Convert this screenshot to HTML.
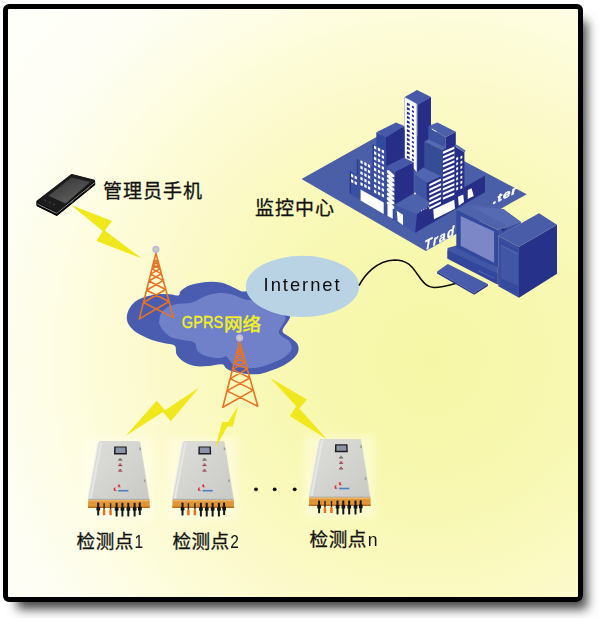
<!DOCTYPE html>
<html><head><meta charset="utf-8"><title>GPRS monitoring network</title>
<style>
html,body{margin:0;padding:0;background:#fff;}
body{width:600px;height:618px;position:relative;overflow:hidden;font-family:"Liberation Sans",sans-serif;}
#frame{position:absolute;left:3px;top:4px;width:580px;height:597.5px;box-sizing:border-box;border:5px solid #000;border-radius:6px;
background:radial-gradient(circle at 422px 351px,rgb(246,247,166) 0px,rgb(247,248,172) 80px,rgb(248,248,179) 150px,rgb(250,249,191) 220px,rgb(252,250,205) 280px,rgb(253,252,218) 340px,rgb(254,253,229) 380px,rgb(254,254,245) 450px,rgb(255,255,250) 540px);box-shadow:9px 12px 11px -5px rgba(0,0,0,.74);}
svg text{font-family:"Liberation Sans",sans-serif;}
svg text.cjk{font-family:"Liberation Sans","Noto Sans CJK SC",sans-serif;}
</style></head><body>
<div id="frame"></div>
<svg width="600" height="618" viewBox="0 0 600 618" style="position:absolute;left:0;top:0">
<!-- defs -->
<defs>
<filter id="soft" x="-10%" y="-10%" width="120%" height="120%"><feGaussianBlur stdDeviation="0.6"/></filter>
<filter id="halo" x="-20%" y="-20%" width="140%" height="140%"><feGaussianBlur stdDeviation="3"/></filter>
<linearGradient id="phTop" x1="0" y1="0" x2="1" y2="1"><stop offset="0" stop-color="#2a2a2a"/><stop offset="1" stop-color="#111"/></linearGradient>
<linearGradient id="phScr" x1="0" y1="0" x2="0.6" y2="1"><stop offset="0" stop-color="#333"/><stop offset="1" stop-color="#5e5e5c"/></linearGradient>
<linearGradient id="boxFace" x1="0" y1="0" x2="1" y2="1"><stop offset="0" stop-color="#dededa"/><stop offset="1" stop-color="#c9c9c5"/></linearGradient>
</defs>
<!-- boxes -->
<rect x="83.5" y="438.0" width="70" height="82" fill="#fffff4" opacity="0.4" filter="url(#halo)"/><g transform="translate(0.0 0.0)" filter="url(#soft)"><polygon points="99.9,441.4 97.4,442.6 87.4,499.3 88.7,499.3" fill="#ecece8" /><polygon points="99.7,441.6 139.7,441.6 149.2,499.6 88.7,499.6" fill="url(#boxFace)" stroke="#d4d4d0" stroke-width="0.8" stroke-linejoin="round"/><polygon points="100.2,442.2 102.4,442.2 91.8,498.4 89.4,498.4" fill="#e6e6e2" /><path d="M88.6 499.4 L149.2 499.4" stroke="#a9a9a2" stroke-width="1"/><polygon points="88.2,499.9 149.6,499.9 149.8,508.0 88.0,508.0" fill="#e09636" /><polygon points="88.2,499.9 149.6,499.9 149.6,501.2 88.2,501.2" fill="#efb562" /><polygon points="88.0,506.6 149.8,506.6 149.8,508.1 88.0,508.1" fill="#b9701f" /><polygon points="114.2,446.4 126.6,446.4 126.9,454.4 114.0,454.4" fill="#1c1c20" /><polygon points="115.6,447.6 125.3,447.6 125.5,453.0 115.5,453.0" fill="#8a94a4" /><rect x="118.2" y="459.4" width="4.0" height="1.3" fill="#8a5050"/><rect x="119.3" y="458.0" width="1.8" height="1.5" fill="#6a8a6a"/><rect x="118.2" y="464.8" width="4.0" height="1.3" fill="#8a5050"/><rect x="119.3" y="463.4" width="1.8" height="1.5" fill="#b05050"/><rect x="118.2" y="470.4" width="4.0" height="1.3" fill="#8a5050"/><rect x="119.3" y="469.0" width="1.8" height="1.5" fill="#b05050"/><path d="M113.5,488.5 l2,-1.6 l-0.4,2.6 l2,1 l-3,0.6z M117.6,485.2 l2,-1.2 l0.2,2.4 l1.6,0.6 l-2.6,0.6z" fill="#d83030"/><rect x="118.2" y="489.9" width="10.2" height="1.6" fill="#4a80c8"/><rect x="139.4" y="447.5" width="1.5" height="2.6" fill="#9a9a96"/><rect x="143.9" y="479.5" width="1.5" height="2.6" fill="#9a9a96"/><rect x="97.2" y="502.6" width="2.0" height="12.8" rx="0.6" fill="#151515"/><rect x="96.4" y="507.0" width="3.7" height="3.6" rx="0.5" fill="#151515"/><rect x="103.4" y="503.2" width="1.4" height="6.4" fill="#2a2018"/><rect x="102.8" y="509.4" width="2.5" height="5.8" rx="0.5" fill="#e8701c"/><rect x="109.9" y="503.2" width="1.4" height="6.4" fill="#2a2018"/><rect x="109.3" y="509.4" width="2.5" height="5.8" rx="0.5" fill="#e8701c"/><rect x="115.6" y="502.8" width="2.0" height="13.8" rx="0.6" fill="#151515"/><rect x="114.8" y="507.2" width="3.7" height="3.6" rx="0.5" fill="#151515"/><rect x="121.4" y="502.8" width="2.0" height="13.8" rx="0.6" fill="#151515"/><rect x="120.6" y="507.2" width="3.7" height="3.6" rx="0.5" fill="#151515"/><rect x="127.3" y="502.8" width="2.0" height="13.8" rx="0.6" fill="#151515"/><rect x="126.5" y="507.2" width="3.7" height="3.6" rx="0.5" fill="#151515"/><rect x="133.6" y="502.8" width="2.0" height="13.8" rx="0.6" fill="#151515"/><rect x="132.8" y="507.2" width="3.7" height="3.6" rx="0.5" fill="#151515"/><rect x="138.8" y="502.4" width="2.0" height="12.6" rx="0.6" fill="#151515"/><rect x="138.0" y="506.8" width="3.7" height="3.6" rx="0.5" fill="#151515"/></g><rect x="167.8" y="438.0" width="70" height="82" fill="#fffff4" opacity="0.4" filter="url(#halo)"/><g transform="translate(84.3 0.0)" filter="url(#soft)"><polygon points="99.9,441.4 97.4,442.6 87.4,499.3 88.7,499.3" fill="#ecece8" /><polygon points="99.7,441.6 139.7,441.6 149.2,499.6 88.7,499.6" fill="url(#boxFace)" stroke="#d4d4d0" stroke-width="0.8" stroke-linejoin="round"/><polygon points="100.2,442.2 102.4,442.2 91.8,498.4 89.4,498.4" fill="#e6e6e2" /><path d="M88.6 499.4 L149.2 499.4" stroke="#a9a9a2" stroke-width="1"/><polygon points="88.2,499.9 149.6,499.9 149.8,508.0 88.0,508.0" fill="#e09636" /><polygon points="88.2,499.9 149.6,499.9 149.6,501.2 88.2,501.2" fill="#efb562" /><polygon points="88.0,506.6 149.8,506.6 149.8,508.1 88.0,508.1" fill="#b9701f" /><polygon points="114.2,446.4 126.6,446.4 126.9,454.4 114.0,454.4" fill="#1c1c20" /><polygon points="115.6,447.6 125.3,447.6 125.5,453.0 115.5,453.0" fill="#8a94a4" /><rect x="118.2" y="459.4" width="4.0" height="1.3" fill="#8a5050"/><rect x="119.3" y="458.0" width="1.8" height="1.5" fill="#6a8a6a"/><rect x="118.2" y="464.8" width="4.0" height="1.3" fill="#8a5050"/><rect x="119.3" y="463.4" width="1.8" height="1.5" fill="#b05050"/><rect x="118.2" y="470.4" width="4.0" height="1.3" fill="#8a5050"/><rect x="119.3" y="469.0" width="1.8" height="1.5" fill="#b05050"/><path d="M113.5,488.5 l2,-1.6 l-0.4,2.6 l2,1 l-3,0.6z M117.6,485.2 l2,-1.2 l0.2,2.4 l1.6,0.6 l-2.6,0.6z" fill="#d83030"/><rect x="118.2" y="489.9" width="10.2" height="1.6" fill="#4a80c8"/><rect x="139.4" y="447.5" width="1.5" height="2.6" fill="#9a9a96"/><rect x="143.9" y="479.5" width="1.5" height="2.6" fill="#9a9a96"/><rect x="97.2" y="502.6" width="2.0" height="12.8" rx="0.6" fill="#151515"/><rect x="96.4" y="507.0" width="3.7" height="3.6" rx="0.5" fill="#151515"/><rect x="103.4" y="503.2" width="1.4" height="6.4" fill="#2a2018"/><rect x="102.8" y="509.4" width="2.5" height="5.8" rx="0.5" fill="#e8701c"/><rect x="109.9" y="503.2" width="1.4" height="6.4" fill="#2a2018"/><rect x="109.3" y="509.4" width="2.5" height="5.8" rx="0.5" fill="#e8701c"/><rect x="115.6" y="502.8" width="2.0" height="13.8" rx="0.6" fill="#151515"/><rect x="114.8" y="507.2" width="3.7" height="3.6" rx="0.5" fill="#151515"/><rect x="121.4" y="502.8" width="2.0" height="13.8" rx="0.6" fill="#151515"/><rect x="120.6" y="507.2" width="3.7" height="3.6" rx="0.5" fill="#151515"/><rect x="127.3" y="502.8" width="2.0" height="13.8" rx="0.6" fill="#151515"/><rect x="126.5" y="507.2" width="3.7" height="3.6" rx="0.5" fill="#151515"/><rect x="133.6" y="502.8" width="2.0" height="13.8" rx="0.6" fill="#151515"/><rect x="132.8" y="507.2" width="3.7" height="3.6" rx="0.5" fill="#151515"/><rect x="138.8" y="502.4" width="2.0" height="12.6" rx="0.6" fill="#151515"/><rect x="138.0" y="506.8" width="3.7" height="3.6" rx="0.5" fill="#151515"/></g><rect x="304.4" y="435.8" width="70" height="82" fill="#fffff4" opacity="0.4" filter="url(#halo)"/><g transform="translate(220.9 -2.2)" filter="url(#soft)"><polygon points="99.9,441.4 97.4,442.6 87.4,499.3 88.7,499.3" fill="#ecece8" /><polygon points="99.7,441.6 139.7,441.6 149.2,499.6 88.7,499.6" fill="url(#boxFace)" stroke="#d4d4d0" stroke-width="0.8" stroke-linejoin="round"/><polygon points="100.2,442.2 102.4,442.2 91.8,498.4 89.4,498.4" fill="#e6e6e2" /><path d="M88.6 499.4 L149.2 499.4" stroke="#a9a9a2" stroke-width="1"/><polygon points="88.2,499.9 149.6,499.9 149.8,508.0 88.0,508.0" fill="#e09636" /><polygon points="88.2,499.9 149.6,499.9 149.6,501.2 88.2,501.2" fill="#efb562" /><polygon points="88.0,506.6 149.8,506.6 149.8,508.1 88.0,508.1" fill="#b9701f" /><polygon points="114.2,446.4 126.6,446.4 126.9,454.4 114.0,454.4" fill="#1c1c20" /><polygon points="115.6,447.6 125.3,447.6 125.5,453.0 115.5,453.0" fill="#8a94a4" /><rect x="118.2" y="459.4" width="4.0" height="1.3" fill="#8a5050"/><rect x="119.3" y="458.0" width="1.8" height="1.5" fill="#6a8a6a"/><rect x="118.2" y="464.8" width="4.0" height="1.3" fill="#8a5050"/><rect x="119.3" y="463.4" width="1.8" height="1.5" fill="#b05050"/><rect x="118.2" y="470.4" width="4.0" height="1.3" fill="#8a5050"/><rect x="119.3" y="469.0" width="1.8" height="1.5" fill="#b05050"/><path d="M113.5,488.5 l2,-1.6 l-0.4,2.6 l2,1 l-3,0.6z M117.6,485.2 l2,-1.2 l0.2,2.4 l1.6,0.6 l-2.6,0.6z" fill="#d83030"/><rect x="118.2" y="489.9" width="10.2" height="1.6" fill="#4a80c8"/><rect x="139.4" y="447.5" width="1.5" height="2.6" fill="#9a9a96"/><rect x="143.9" y="479.5" width="1.5" height="2.6" fill="#9a9a96"/><rect x="97.2" y="502.6" width="2.0" height="12.8" rx="0.6" fill="#151515"/><rect x="96.4" y="507.0" width="3.7" height="3.6" rx="0.5" fill="#151515"/><rect x="103.4" y="503.2" width="1.4" height="6.4" fill="#2a2018"/><rect x="102.8" y="509.4" width="2.5" height="5.8" rx="0.5" fill="#e8701c"/><rect x="109.9" y="503.2" width="1.4" height="6.4" fill="#2a2018"/><rect x="109.3" y="509.4" width="2.5" height="5.8" rx="0.5" fill="#e8701c"/><rect x="115.6" y="502.8" width="2.0" height="13.8" rx="0.6" fill="#151515"/><rect x="114.8" y="507.2" width="3.7" height="3.6" rx="0.5" fill="#151515"/><rect x="121.4" y="502.8" width="2.0" height="13.8" rx="0.6" fill="#151515"/><rect x="120.6" y="507.2" width="3.7" height="3.6" rx="0.5" fill="#151515"/><rect x="127.3" y="502.8" width="2.0" height="13.8" rx="0.6" fill="#151515"/><rect x="126.5" y="507.2" width="3.7" height="3.6" rx="0.5" fill="#151515"/><rect x="133.6" y="502.8" width="2.0" height="13.8" rx="0.6" fill="#151515"/><rect x="132.8" y="507.2" width="3.7" height="3.6" rx="0.5" fill="#151515"/><rect x="138.8" y="502.4" width="2.0" height="12.6" rx="0.6" fill="#151515"/><rect x="138.0" y="506.8" width="3.7" height="3.6" rx="0.5" fill="#151515"/></g>
<!-- bolts -->
<g filter="url(#soft)"><polygon points="71.0,205.0 112.0,221.0 104.8,230.6 142.0,258.6 96.5,241.0 102.6,231.0" fill="#f0e81a" /><polygon points="125.8,435.8 156.7,400.8 165.0,410.3 199.2,387.5 170.8,421.3 163.0,412.0" fill="#f0e81a" /><polygon points="238.5,405.5 228.0,421.9 222.2,421.9 215.2,448.0 227.5,426.5 232.7,426.5" fill="#f0e81a" /><polygon points="270.0,377.8 306.8,399.5 299.3,408.5 327.0,439.3 289.8,416.0 296.3,406.3" fill="#f0e81a" /></g>
<!-- cloud -->
<g filter="url(#soft)"><path d="M126.8 317.5C126.8 314.9 127.6 311.9 129.0 309.2C130.4 306.6 132.5 303.8 135.0 301.8C137.5 299.8 140.2 298.5 144.0 297.2C147.8 296.0 153.2 294.8 157.5 294.2C161.8 293.8 166.0 294.0 169.5 294.2C173.0 294.5 176.7 296.0 178.5 295.5C180.3 295.0 179.0 292.8 180.5 291.3C182.0 289.8 184.6 287.6 187.5 286.2C190.4 284.9 194.2 284.0 198.0 283.2C201.8 282.5 206.2 281.9 210.0 281.8C213.8 281.6 217.2 281.9 220.5 282.5C223.8 283.1 226.8 284.4 229.5 285.5C232.2 286.6 234.8 288.2 237.0 289.2C239.2 290.2 240.5 291.2 243.0 291.5C245.5 291.8 247.2 289.9 252.0 291.0C256.8 292.1 266.0 295.2 272.0 298.0C278.0 300.8 285.0 305.0 288.0 308.0C291.0 311.0 289.9 313.9 290.0 316.0C290.1 318.1 289.8 318.0 288.5 320.5C287.2 323.0 282.4 328.3 282.5 331.0C282.6 333.7 286.8 334.7 289.2 336.8C291.7 338.8 295.6 341.1 297.1 343.5C298.6 345.9 299.0 348.8 298.2 351.4C297.5 354.0 295.2 356.8 292.6 359.2C290.0 361.7 286.1 364.1 282.5 366.0C278.9 367.9 275.0 369.2 271.2 370.5C267.5 371.8 264.1 373.3 260.0 373.9C255.9 374.5 251.0 374.3 246.5 373.9C242.0 373.5 236.4 372.5 233.0 371.6C229.6 370.7 228.1 369.5 226.2 368.2C224.4 367.0 224.8 364.6 221.8 364.2C218.8 363.8 212.8 365.7 208.2 366.0C203.8 366.3 198.9 366.8 194.8 366.0C190.6 365.2 186.5 363.4 183.5 361.5C180.5 359.6 178.1 357.2 176.8 354.8C175.4 352.2 176.4 348.2 175.4 346.5C174.4 344.8 173.0 344.9 171.0 344.3C169.0 343.7 167.0 343.8 163.5 343.0C160.0 342.2 154.5 341.0 150.0 339.2C145.5 337.5 140.0 334.9 136.5 332.5C133.0 330.1 130.6 327.5 129.0 325.0C127.4 322.5 126.8 320.1 126.8 317.5Z" fill="#4a5cb0"/><path d="M159.3 320.5C159.6 318.5 159.8 315.2 161.2 313.0C162.7 310.8 165.4 308.5 168.0 307.0C170.6 305.5 173.8 304.6 177.0 304.0C180.2 303.4 184.5 303.7 187.5 303.2C190.5 302.8 192.8 302.1 195.0 301.2C197.2 300.4 198.5 299.4 201.0 298.2C203.5 297.1 206.5 295.4 210.0 294.5C213.5 293.6 218.2 293.0 222.0 293.0C225.8 293.0 229.5 293.8 232.5 294.5C235.5 295.2 237.8 296.6 240.0 297.5C242.2 298.4 243.7 299.2 246.0 299.8C248.3 300.2 250.0 299.6 254.0 300.5C258.0 301.4 265.8 303.2 270.0 305.0C274.2 306.8 276.9 309.4 279.5 311.5C282.1 313.6 284.9 315.4 285.5 317.5C286.1 319.6 284.1 321.6 283.0 324.0C281.9 326.4 278.8 329.6 278.8 331.8C278.7 333.9 280.8 335.2 282.5 336.8C284.2 338.3 287.8 339.2 289.2 341.2C290.8 343.3 292.2 346.5 291.5 349.1C290.8 351.7 287.8 354.8 284.8 357.0C281.8 359.2 277.6 360.9 273.5 362.6C269.4 364.3 264.5 366.2 260.0 367.1C255.5 368.0 250.6 368.4 246.5 368.2C242.4 368.1 238.1 367.3 235.2 366.0C232.4 364.7 231.1 362.0 229.6 360.4C228.1 358.8 227.9 356.8 226.2 356.4C224.6 356.0 222.9 358.2 219.5 358.1C216.1 358.0 209.6 357.0 206.0 355.9C202.4 354.8 199.8 353.0 198.1 351.4C196.4 349.8 196.3 347.3 195.9 346.0C195.5 344.7 196.2 344.2 195.5 343.5C194.8 342.8 194.1 342.1 192.0 341.5C189.9 340.9 186.2 340.6 183.0 340.0C179.8 339.4 175.5 339.0 172.5 337.8C169.5 336.5 167.1 334.6 165.0 332.5C162.9 330.4 160.7 327.0 159.8 325.0C158.8 323.0 159.1 322.5 159.3 320.5Z" fill="#7080c9"/></g>
<!-- towers -->
<path d="M139.3 318.9L155.9 253.3L173.4 317.6M139.3 318.9L169.0 301.5M173.4 317.6L143.5 302.5M143.5 302.5L165.7 289.5M169.0 301.5L146.6 290.2M146.6 290.2L163.3 280.4M165.7 289.5L148.9 281.0M148.9 281.0L161.4 273.6M163.3 280.4L150.6 274.1M150.6 274.1L160.1 268.6M161.4 273.6L152.0 268.9M152.0 268.9L159.0 264.7M160.1 268.6L152.9 265.0M152.9 265.0L158.2 261.9M159.0 264.7L153.7 262.1M153.7 262.1L157.7 259.7M158.2 261.9L154.2 259.9" fill="none" stroke="#e87324" stroke-width="1.60" stroke-linejoin="round" stroke-linecap="round"/><circle cx="155.9" cy="249.3" r="3.6" fill="#bdb8dc"/><ellipse cx="155.9" cy="249.3" rx="2.0" ry="1.6" fill="#c9d2b4"/><path d="M222.8 407.3L239.6 341.8L257.8 406.2M222.8 407.3L253.2 390.1M257.8 406.2L227.0 390.9M227.0 390.9L249.8 378.0M253.2 390.1L230.2 378.6M230.2 378.6L247.3 369.0M249.8 378.0L232.5 369.4M232.5 369.4L245.4 362.2M247.3 369.0L234.3 362.5M234.3 362.5L243.9 357.1M245.4 362.2L235.6 357.3M235.6 357.3L242.8 353.3M243.9 357.1L236.6 353.5M236.6 353.5L242.0 350.4M242.8 353.3L237.4 350.5M237.4 350.5L241.4 348.2M242.0 350.4L237.9 348.4" fill="none" stroke="#e87324" stroke-width="1.60" stroke-linejoin="round" stroke-linecap="round"/><circle cx="239.6" cy="337.8" r="3.6" fill="#bdb8dc"/><ellipse cx="239.6" cy="337.8" rx="2.0" ry="1.6" fill="#c9d2b4"/>
<!-- ellipse -->
<ellipse cx="302.5" cy="286.4" rx="56.7" ry="30.6" fill="#bad3e4"/><text x="263.6" y="290.8" font-size="18.4" letter-spacing="1.95" fill="#0a0a0a" opacity="0.99">Internet</text>
<!-- cable -->
<path d="M359,285.6 C364,276 376,260.5 394.5,260 C410,260 414,270 418,275 C424,284 428,287.5 434,287.4 C442,287.5 450,285 457,283" fill="none" stroke="#0c0c0c" stroke-width="1.5"/>
<!-- city -->
<g filter="url(#soft)"><polygon points="301.5,178.9 397.0,125.5 526.7,194.2 425.8,251.0" fill="#4c5fa8" /><polygon points="417.4,104.2 431.0,97.0 431.0,168.0 417.4,174.0" fill="#262f88" /><polygon points="404.7,97.2 417.4,104.2 417.4,172.5 404.7,158.0" fill="#3a4ea4" /><polygon points="404.9,97.4 416.7,103.8 416.7,172.0 404.9,158.0" fill="#ffffff" /><polygon points="404.7,97.0 417.0,90.0 431.0,97.0 418.4,104.7" fill="#4759a8" /><path d="M406.9 102.6 l2.8 1.5 l0 2.2 l-1.3 -0.7 l-1.5 -0.2zM411.9 105.5 l2.0 1.1 l0 1.9 l-2.0 -1.1zM406.9 107.0 l2.8 1.5 l0 2.2 l-1.3 -0.7 l-1.5 -0.2zM411.9 109.9 l2.0 1.1 l0 1.9 l-2.0 -1.1zM406.9 111.4 l2.8 1.5 l0 2.2 l-1.3 -0.7 l-1.5 -0.2zM411.9 114.3 l2.0 1.1 l0 1.9 l-2.0 -1.1zM406.9 115.8 l2.8 1.5 l0 2.2 l-1.3 -0.7 l-1.5 -0.2zM411.9 118.7 l2.0 1.1 l0 1.9 l-2.0 -1.1zM406.9 120.2 l2.8 1.5 l0 2.2 l-1.3 -0.7 l-1.5 -0.2zM411.9 123.1 l2.0 1.1 l0 1.9 l-2.0 -1.1zM406.9 124.6 l2.8 1.5 l0 2.2 l-1.3 -0.7 l-1.5 -0.2zM411.9 127.5 l2.0 1.1 l0 1.9 l-2.0 -1.1zM406.9 129.0 l2.8 1.5 l0 2.2 l-1.3 -0.7 l-1.5 -0.2zM411.9 131.9 l2.0 1.1 l0 1.9 l-2.0 -1.1zM406.9 133.4 l2.8 1.5 l0 2.2 l-1.3 -0.7 l-1.5 -0.2zM411.9 136.3 l2.0 1.1 l0 1.9 l-2.0 -1.1zM406.9 137.8 l2.8 1.5 l0 2.2 l-1.3 -0.7 l-1.5 -0.2zM411.9 140.7 l2.0 1.1 l0 1.9 l-2.0 -1.1zM406.9 142.2 l2.8 1.5 l0 2.2 l-1.3 -0.7 l-1.5 -0.2zM411.9 145.1 l2.0 1.1 l0 1.9 l-2.0 -1.1zM406.9 146.6 l2.8 1.5 l0 2.2 l-1.3 -0.7 l-1.5 -0.2zM411.9 149.5 l2.0 1.1 l0 1.9 l-2.0 -1.1zM406.9 151.0 l2.8 1.5 l0 2.2 l-1.3 -0.7 l-1.5 -0.2zM411.9 153.9 l2.0 1.1 l0 1.9 l-2.0 -1.1zM406.9 155.4 l2.8 1.5 l0 2.2 l-1.3 -0.7 l-1.5 -0.2zM411.9 158.3 l2.0 1.1 l0 1.9 l-2.0 -1.1z" fill="#1f2a84"/><polygon points="386.0,137.3 404.3,126.0 404.3,160.0 386.0,168.0" fill="#262f88" /><polygon points="376.3,132.3 386.0,137.3 386.0,170.0 376.3,165.0" fill="#3149a0" /><polygon points="376.3,132.3 396.0,122.5 404.3,126.0 386.0,137.3" fill="#4759a8" /><polygon points="428.3,125.9 445.4,137.2 445.4,152.0 428.3,143.0" fill="#3d53a1" /><polygon points="445.4,137.2 455.8,131.8 455.8,149.0 445.4,152.0" fill="#262f88" /><polygon points="428.3,125.9 437.5,122.6 455.8,131.8 445.4,137.2" fill="#4b5fab" /><path d="M431.7,129.2 l5,2.5" stroke="#e8ecf8" stroke-width="0.9"/><polygon points="424.2,141.8 442.5,150.3 442.5,200.0 424.2,190.0" fill="#364d96" /><polygon points="424.2,141.8 428.3,139.2 445.0,147.2 442.5,150.3" fill="#566ab3" /><polygon points="442.5,150.3 454.8,145.6 454.8,204.0 442.5,210.0" fill="#262f88" /><polygon points="454.8,146.3 464.4,152.2 464.4,198.0 454.8,204.0" fill="#262f88" /><polygon points="454.6,145.4 456.2,144.6 465.6,150.4 464.4,152.4" fill="#566ab3" /><polygon points="414.7,174.2 426.8,182.8 426.8,206.0 414.7,196.0" fill="#3e55a2" /><polygon points="426.8,182.8 441.3,176.2 441.3,212.0 426.8,218.0" fill="#262f88" /><polygon points="414.7,174.2 423.0,167.5 441.3,176.2 426.8,182.8" fill="#5166b0" /><polygon points="349.7,170.5 356.8,174.2 356.8,158.8 372.6,166.8 372.6,144.0 386.3,151.2 386.3,166.3 395.0,171.7 395.0,221.0 349.5,193.6" fill="#3a50a1" /><path d="M350.3 171 v22.6 M357.4 159.4 v15.6 M373.2 144.6 v22" stroke="#2c3c94" stroke-width="1.2"/><polygon points="395.0,171.7 413.7,162.3 413.7,193.3 395.0,204.5" fill="#262f88" /><polygon points="386.3,166.3 403.7,157.7 413.7,162.3 395.0,171.7" fill="#4759a8" /><polygon points="395.0,205.0 417.0,214.0 417.0,234.0 395.0,221.0" fill="#3f55a4" /><polygon points="417.0,213.5 432.5,203.0 465.0,186.7 485.0,175.8 485.0,192.2 415.2,232.8" fill="#262f88" /><polygon points="395.0,205.0 415.0,193.3 431.7,203.3 417.0,214.0" fill="#4d62ad" /><circle cx="415" cy="193.5" r="0.9" fill="#fff"/><path d="M351.0 173.6 l2.3 1.15 l0 2.9 l-2.3 -1.15zM351.0 179.1 l2.3 1.15 l0 2.9 l-2.3 -1.15zM354.6 175.5 l2.3 1.15 l0 2.9 l-2.3 -1.15zM354.6 181.0 l2.3 1.15 l0 2.9 l-2.3 -1.15zM360.4 160.2 l2.3 1.15 l0 2.9 l-2.3 -1.15zM360.4 165.7 l2.3 1.15 l0 2.9 l-2.3 -1.15zM360.4 171.2 l2.3 1.15 l0 2.9 l-2.3 -1.15zM360.4 176.7 l2.3 1.15 l0 2.9 l-2.3 -1.15zM360.4 182.2 l2.3 1.15 l0 2.9 l-2.3 -1.15zM364.3 162.1 l2.3 1.15 l0 2.9 l-2.3 -1.15zM364.3 167.6 l2.3 1.15 l0 2.9 l-2.3 -1.15zM364.3 173.1 l2.3 1.15 l0 2.9 l-2.3 -1.15zM364.3 178.6 l2.3 1.15 l0 2.9 l-2.3 -1.15zM364.3 184.1 l2.3 1.15 l0 2.9 l-2.3 -1.15zM367.9 164.0 l2.3 1.15 l0 2.9 l-2.3 -1.15zM367.9 169.5 l2.3 1.15 l0 2.9 l-2.3 -1.15zM367.9 175.0 l2.3 1.15 l0 2.9 l-2.3 -1.15zM367.9 180.5 l2.3 1.15 l0 2.9 l-2.3 -1.15zM367.9 186.0 l2.3 1.15 l0 2.9 l-2.3 -1.15zM374.0 145.6 l2.3 1.15 l0 2.9 l-2.3 -1.15zM374.0 151.1 l2.3 1.15 l0 2.9 l-2.3 -1.15zM374.0 156.6 l2.3 1.15 l0 2.9 l-2.3 -1.15zM374.0 162.1 l2.3 1.15 l0 2.9 l-2.3 -1.15zM374.0 167.6 l2.3 1.15 l0 2.9 l-2.3 -1.15zM374.0 173.1 l2.3 1.15 l0 2.9 l-2.3 -1.15zM374.0 178.6 l2.3 1.15 l0 2.9 l-2.3 -1.15zM374.0 184.1 l2.3 1.15 l0 2.9 l-2.3 -1.15zM374.0 189.6 l2.3 1.15 l0 2.9 l-2.3 -1.15zM377.9 147.5 l2.3 1.15 l0 2.9 l-2.3 -1.15zM377.9 153.0 l2.3 1.15 l0 2.9 l-2.3 -1.15zM377.9 158.5 l2.3 1.15 l0 2.9 l-2.3 -1.15zM377.9 164.0 l2.3 1.15 l0 2.9 l-2.3 -1.15zM377.9 169.5 l2.3 1.15 l0 2.9 l-2.3 -1.15zM377.9 175.0 l2.3 1.15 l0 2.9 l-2.3 -1.15zM377.9 180.5 l2.3 1.15 l0 2.9 l-2.3 -1.15zM377.9 186.0 l2.3 1.15 l0 2.9 l-2.3 -1.15zM377.9 191.5 l2.3 1.15 l0 2.9 l-2.3 -1.15zM381.7 149.4 l2.3 1.15 l0 2.9 l-2.3 -1.15zM381.7 154.9 l2.3 1.15 l0 2.9 l-2.3 -1.15zM381.7 160.4 l2.3 1.15 l0 2.9 l-2.3 -1.15zM381.7 165.9 l2.3 1.15 l0 2.9 l-2.3 -1.15zM381.7 171.4 l2.3 1.15 l0 2.9 l-2.3 -1.15zM381.7 176.9 l2.3 1.15 l0 2.9 l-2.3 -1.15zM381.7 182.4 l2.3 1.15 l0 2.9 l-2.3 -1.15zM381.7 187.9 l2.3 1.15 l0 2.9 l-2.3 -1.15zM381.7 193.4 l2.3 1.15 l0 2.9 l-2.3 -1.15zM386.9 170.2 l2.2 0 l5.2 5.0 l0 2.0 l-2.4 0 l-5 -4.8zM386.9 174.7 l2.2 0 l5.2 5.0 l0 2.0 l-2.4 0 l-5 -4.8zM386.9 179.2 l2.2 0 l5.2 5.0 l0 2.0 l-2.4 0 l-5 -4.8zM386.9 183.7 l2.2 0 l5.2 5.0 l0 2.0 l-2.4 0 l-5 -4.8zM386.9 188.2 l2.2 0 l5.2 5.0 l0 2.0 l-2.4 0 l-5 -4.8zM386.9 192.7 l2.2 0 l5.2 5.0 l0 2.0 l-2.4 0 l-5 -4.8zM386.9 197.2 l2.2 0 l5.2 5.0 l0 2.0 l-2.4 0 l-5 -4.8zM386.9 201.7 l2.2 0 l5.2 5.0 l0 2.0 l-2.4 0 l-5 -4.8zM360.6 189.6 L383.7 202.5 L383.7 214 L360.6 200.4zM387.5 204.8 L392.7 207.8 L392.7 218.7 L387.5 216zM396.7 210.7 L403 214.7 L403 225.3 L397.7 221.3zM433.25 209.5 L454.25 199.75 L455 208.75 L434 219.25zM458 196.75 L463.25 194.5 L464 202 L458.75 205.75zM467.75 190 L471.5 188.2 L473.75 196 L467.75 199zM429.25 184.2 L440.9 178.6 l0 2.2 L429.25 186.4zM429.25 188.8 L440.9 183.2 l0 2.2 L429.25 191.0zM429.25 193.4 L440.9 187.8 l0 2.2 L429.25 195.6zM429.25 198.0 L440.9 192.4 l0 2.2 L429.25 200.2zM429.25 202.6 L440.9 197.0 l0 2.2 L429.25 204.8zM429.25 207.2 L440.9 201.6 l0 2.2 L429.25 209.4zM421.0 210.6 l1 -0.5 l0 1 l-1 0.5zM423.4 209.2 l1 -0.5 l0 1 l-1 0.5zM425.8 207.9 l1 -0.5 l0 1 l-1 0.5zM428.2 206.5 l1 -0.5 l0 1 l-1 0.5zM442.9 151.6 L454.4 146.6 l0 2.3 L442.9 153.9zM442.9 156.2 L454.4 151.2 l0 2.3 L442.9 158.5zM442.9 160.8 L454.4 155.8 l0 2.3 L442.9 163.1zM442.9 165.3 L454.4 160.3 l0 2.3 L442.9 167.6zM442.9 169.9 L454.4 164.9 l0 2.3 L442.9 172.2zM442.9 174.5 L454.4 169.5 l0 2.3 L442.9 176.8zM442.9 179.1 L454.4 174.1 l0 2.3 L442.9 181.4zM442.9 183.7 L454.4 178.7 l0 2.3 L442.9 186.0zM442.9 188.2 L454.4 183.2 l0 2.3 L442.9 190.5zM442.9 192.8 L454.4 187.8 l0 2.3 L442.9 195.1zM442.9 197.4 L454.4 192.4 l0 2.3 L442.9 199.7zM456.2 157.8 l1.9 -0.8 l0 2.6 l-1.9 0.8z M460.4 156.4 l1.9 -0.8 l0 2.6 l-1.9 0.8zM456.2 162.8 l1.9 -0.8 l0 2.6 l-1.9 0.8z M460.4 161.4 l1.9 -0.8 l0 2.6 l-1.9 0.8zM456.2 167.8 l1.9 -0.8 l0 2.6 l-1.9 0.8z M460.4 166.4 l1.9 -0.8 l0 2.6 l-1.9 0.8zM456.2 172.8 l1.9 -0.8 l0 2.6 l-1.9 0.8z M460.4 171.4 l1.9 -0.8 l0 2.6 l-1.9 0.8zM456.2 177.8 l1.9 -0.8 l0 2.6 l-1.9 0.8z M460.4 176.4 l1.9 -0.8 l0 2.6 l-1.9 0.8zM456.2 182.8 l1.9 -0.8 l0 2.6 l-1.9 0.8z M460.4 181.4 l1.9 -0.8 l0 2.6 l-1.9 0.8zM456.2 187.8 l1.9 -0.8 l0 2.6 l-1.9 0.8z M460.4 186.4 l1.9 -0.8 l0 2.6 l-1.9 0.8z" fill="#fff"/><text transform="matrix(0.889 -0.459 0 1 424.4 250.4)" font-size="13.4" font-style="italic" font-weight="bold" fill="#fff" stroke="#fff" stroke-width="0.35" letter-spacing="1.6">Trad</text><text transform="matrix(1.22 -0.585 -0.15 1 492.3 204.4)" font-size="11" font-style="normal" font-weight="bold" fill="#fff" stroke="#fff" stroke-width="0.5" letter-spacing="0.8">.ter</text></g>
<!-- pc -->
<g filter="url(#soft)"><polygon points="456.3,209.8 476.0,203.4 503.7,209.3 521.0,222.0 497.4,229.7" fill="#4f63ac" /><polygon points="470.0,206.0 503.7,209.3 521.0,222.0 508.0,226.3" fill="#566ab3" /><polygon points="497.4,229.7 521.0,222.0 521.0,223.6 498.3,236.2" fill="#3f53a3" /><polygon points="501.5,228.6 507.2,228.4 502.2,232.2" fill="#27328a" /><polygon points="498.3,236.0 519.0,246.7 519.0,297.7 498.3,286.2" fill="#3a4ea0" /><polygon points="519.0,246.7 557.0,224.7 557.0,273.8 519.0,297.7" fill="#27328a" /><polygon points="498.3,236.0 539.0,213.3 557.0,224.7 519.0,246.7" fill="#485ba8" /><polygon points="501.2,245.4 518.0,253.8 518.0,285.4 501.2,277.7" fill="#4257a6" /><path d="M501.2 245.6 L518 254 " stroke="#5a6eb6" stroke-width="0.8" fill="none"/><path d="M500.6 242.2 L518 251 M501.2 280 L518 288 M501.2 282.6 L518 290.6 M501.2 285.2 L518 293.2" stroke="#2e4096" stroke-width="0.8" fill="none"/><polygon points="447.5,248.1 456.4,245.5 497.4,268.0 497.4,284.0 447.5,258.2" fill="#4257a6" /><polygon points="447.5,250.2 497.4,273.4 497.4,284.6 447.5,258.8" fill="#33479c" /><polygon points="497.4,268.0 498.6,267.4 498.6,284.0 497.4,284.6" fill="#27328a" /><path d="M478 270.6 L494 278.2" stroke="#5266b0" stroke-width="0.9" fill="none"/><polygon points="456.3,209.8 498.4,230.2 498.4,268.4 456.3,248.1" fill="#34489c" /><polygon points="460.7,216.0 494.1,231.5 494.1,262.7 460.7,245.8" fill="#7b87c7" /><polygon points="437.1,271.6 447.8,264.1 487.9,284.1 474.2,293.0" fill="#485cab" /><polygon points="437.1,271.6 474.2,293.0 474.2,294.8 437.1,273.4" fill="#2c3c94" /><polygon points="474.2,293.0 487.9,284.1 487.9,285.9 474.2,294.8" fill="#27328a" /></g>
<!-- phone -->
<g filter="url(#soft)"><polygon points="37.3,201.6 71.7,175.0 94.0,180.6 94.3,184.2 56.6,214.9 37.3,205.0" fill="#0b0b0b" stroke="#0b0b0b" stroke-width="2" stroke-linejoin="round"/><path d="M37.6,204.2 L56.8,213.4 L94.6,182.6" fill="none" stroke="#8f8f8f" stroke-width="1.0" stroke-linejoin="round"/><path d="M37.4,205.6 L56.7,215.0 L94.8,184.2" fill="none" stroke="#050505" stroke-width="1.3" stroke-linejoin="round"/><polygon points="37.9,201.3 71.8,175.3 93.4,180.5 57.0,211.3" fill="#1b1b1b" stroke="#1b1b1b" stroke-width="1.6" stroke-linejoin="round"/><polygon points="48.4,195.8 71.6,177.6 90.0,182.0 65.6,203.6" fill="url(#phScr)" /><path d="M44.5,199.8 l1.4,0.7 M49,202 l1.4,0.7 M53.4,204.2 l1.4,0.7" stroke="#6a6a6a" stroke-width="0.8"/><path d="M70.5,203.2 l3.4,-2.8 M84,192.3 l5.5,-4.5" stroke="#555" stroke-width="0.8"/></g>
<!-- dots -->
<circle cx="256.0" cy="489.3" r="1.9" fill="#111"/><circle cx="274.7" cy="489.3" r="1.9" fill="#111"/><circle cx="294.7" cy="489.3" r="1.9" fill="#111"/>
<!-- labels -->
<text class="cjk" x="102.9" y="198.3" font-size="19" letter-spacing="1" fill="#111" stroke="#111" stroke-width="0.3">管理员手机</text>
<text class="cjk" x="255" y="215.3" font-size="19" letter-spacing="1" fill="#111" stroke="#111" stroke-width="0.3">监控中心</text>
<text class="cjk" x="76.6" y="548.4" font-size="18.6" letter-spacing="0.5" fill="#111" stroke="#111" stroke-width="0.3">检测点</text><text x="134.5" y="548.4" font-size="19" fill="#111" opacity="0.99" textLength="8.6" lengthAdjust="spacingAndGlyphs">1</text>
<text class="cjk" x="172.4" y="548.4" font-size="18.6" letter-spacing="0.5" fill="#111" stroke="#111" stroke-width="0.3">检测点</text><text x="230.3" y="548.4" font-size="19" fill="#111" opacity="0.99" textLength="8.6" lengthAdjust="spacingAndGlyphs">2</text>
<text class="cjk" x="309.6" y="546.4" font-size="18.6" letter-spacing="0.5" fill="#111" stroke="#111" stroke-width="0.3">检测点</text><text x="367.7" y="546.4" font-size="19" fill="#111" opacity="0.99" textLength="9.8" lengthAdjust="spacingAndGlyphs">n</text><text x="181.8" y="328.4" font-size="16.8" fill="#f2f21e" stroke="#f2f21e" stroke-width="0.35" textLength="41.4" lengthAdjust="spacingAndGlyphs">GPRS</text>
<text class="cjk" x="224" y="330.6" font-size="18.6" fill="#f2f21e" stroke="#f2f21e" stroke-width="0.5">网络</text>
</svg>
</body></html>
